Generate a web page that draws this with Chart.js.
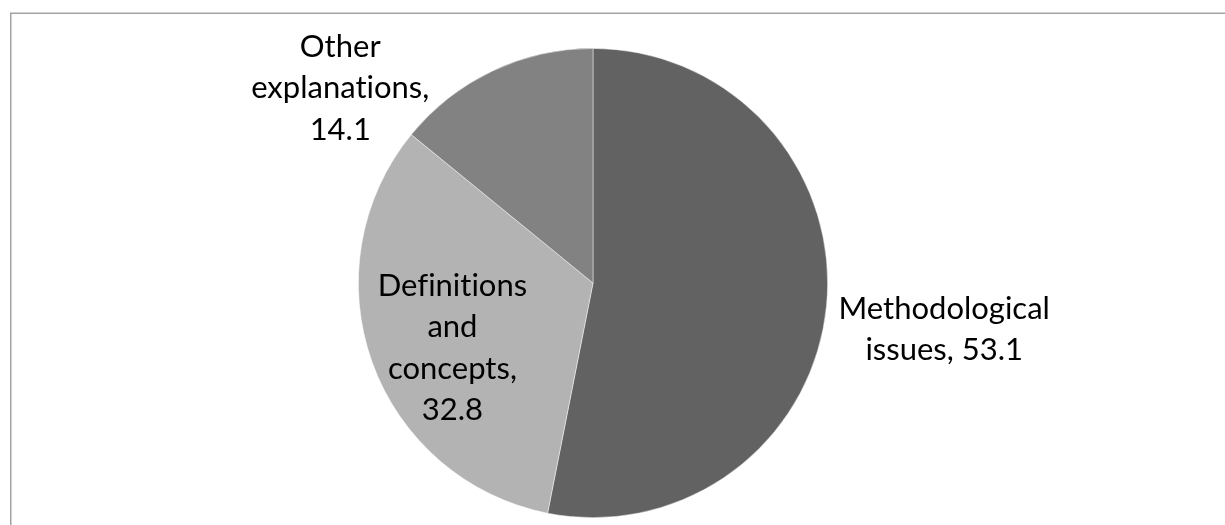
<!DOCTYPE html>
<html>
<head>
<meta charset="utf-8">
<script src="https://cdn.jsdelivr.net/npm/chart.js@4"></script>
<style>
  html, body { margin: 0; padding: 0; background: #ffffff; }
  #wrap { width: 1225px; height: 525px; position: relative; }
</style>
</head>
<body>
<div id="wrap"><canvas id="chart"></canvas></div>
<script>
const categories = ['Methodological issues', 'Definitions and concepts', 'Other explanations'];
const values = [53.1, 32.8, 14.1];
const sliceColors = ['#626262', '#b3b3b3', '#828282'];

// where each data label sits, relative to its slice (radius factor, angle nudge in degrees, wrap width)
const labelPlacement = [
    { dist: 1.51, turn: 2, wrap: 230 },
    { dist: 0.66, turn: -5, wrap: 165 },
    { dist: 1.36, turn: -27, wrap: 195 }
];

const labelFont = '31px Lato, "Open Sans", sans-serif';

function wrapText(ctx, text, maxWidth) {
    const words = text.split(' ');
    const lines = [];
    let line = '';
    words.forEach(word => {
        const test = line ? line + ' ' + word : word;
        if (line && ctx.measureText(test).width > maxWidth) {
            lines.push(line);
            line = word;
        } else {
            line = test;
        }
    });
    if (line) lines.push(line);
    return lines;
}

const frame = {
    id: 'frame',
    beforeDraw(chart) {
        const ctx = chart.ctx;
        ctx.save();
        ctx.strokeStyle = '#a3a3a3';
        ctx.lineWidth = 1.5;
        ctx.beginPath();
        ctx.moveTo(10.75, chart.height + 5);
        ctx.lineTo(10.75, 13.25);
        ctx.lineTo(chart.width + 5, 13.25);
        ctx.stroke();
        ctx.restore();
    }
};

const sliceLabels = {
    id: 'sliceLabels',
    afterDatasetsDraw(chart) {
        const ctx = chart.ctx;
        const meta = chart.getDatasetMeta(0);
        ctx.save();
        ctx.font = labelFont;
        // no "ti" ligatures, like the original
        if ('textRendering' in ctx) ctx.textRendering = 'optimizeSpeed';
        ctx.fillStyle = '#000000';
        ctx.textAlign = 'center';
        ctx.textBaseline = 'middle';
        meta.data.forEach((arc, i) => {
            const p = arc.getProps(['x', 'y', 'startAngle', 'endAngle', 'outerRadius'], true);
            const place = labelPlacement[i];
            const mid = (p.startAngle + p.endAngle) / 2 + place.turn * Math.PI / 180;
            const cx = p.x + Math.cos(mid) * p.outerRadius * place.dist;
            const cy = p.y + Math.sin(mid) * p.outerRadius * place.dist;
            const text = categories[i] + ', ' + values[i].toFixed(1);
            const lines = wrapText(ctx, text, place.wrap);
            const lineHeight = 41.5;
            const top = cy - (lines.length - 1) * lineHeight / 2;
            lines.forEach((line, k) => ctx.fillText(line, cx, top + k * lineHeight));
        });
        ctx.restore();
    }
};

new Chart(document.getElementById('chart'), {
    type: 'pie',
    data: {
        labels: categories,
        datasets: [{
            data: values,
            backgroundColor: sliceColors,
            borderColor: 'rgba(255,255,255,0.6)',
            borderWidth: 0.75
        }]
    },
    options: {
        responsive: true,
        maintainAspectRatio: false,
        animation: false,
        layout: {
            padding: { top: 48, bottom: 7, left: 0, right: 39 }
        },
        plugins: {
            legend: { display: false },
            tooltip: { enabled: false }
        }
    },
    plugins: [frame, sliceLabels]
});
</script>
</body>
</html>
